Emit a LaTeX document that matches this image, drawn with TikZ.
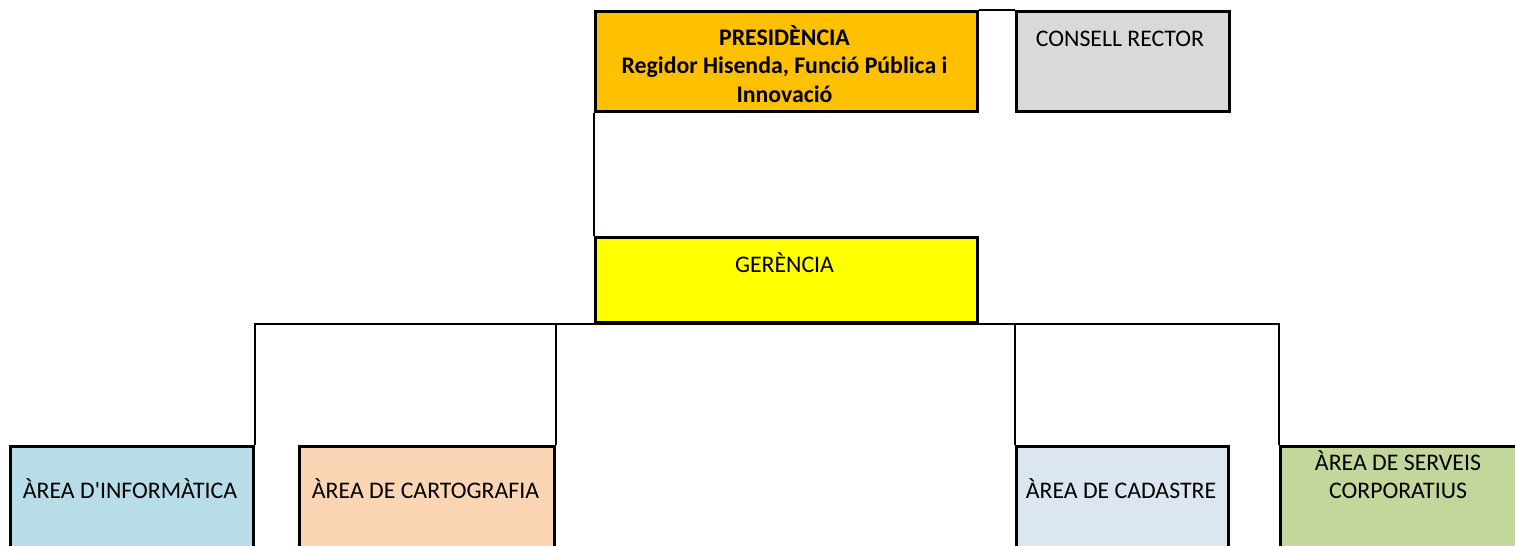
\documentclass[tikz,border=0pt]{standalone}
\usepackage{fontspec}
\setmainfont{Carlito}
\definecolor{cpres}{HTML}{FFC000}
\definecolor{ccons}{HTML}{D9D9D9}
\definecolor{cger}{HTML}{FFFF00}
\definecolor{cinfo}{HTML}{B7DEE8}
\definecolor{ccart}{HTML}{FCD5B4}
\definecolor{ccad}{HTML}{DCE6F1}
\definecolor{cserv}{HTML}{C4D79B}
\begin{document}
\begin{tikzpicture}[x=1pt,y=-1pt,
  orgbox/.style={draw=black, line width=3pt, rectangle, anchor=north west, inner sep=0pt},
  conn/.style={draw=black, line width=2pt},
  lbl/.style={font=\fontsize{23.8pt}{28.5pt}\selectfont, align=center, inner sep=0pt, anchor=center}]
\useasboundingbox (0,0) rectangle (1515,546);
\clip (0,0) rectangle (1515,546);
% boxes
\node[orgbox, fill=cpres, minimum width=382pt, minimum height=100.5pt] (pres) at (593.5,9.5) {};
\node[orgbox, fill=ccons, minimum width=213.5pt, minimum height=100.5pt] (cons) at (1014.5,9.5) {};
\node[orgbox, fill=cger, minimum width=382pt, minimum height=85pt] (ger) at (593.5,235.5) {};
\node[orgbox, fill=cinfo, minimum width=243pt, minimum height=150pt] (info) at (8.5,445) {};
\node[orgbox, fill=ccart, minimum width=255pt, minimum height=150pt] (cart) at (298,445) {};
\node[orgbox, fill=ccad, minimum width=212.5pt, minimum height=150pt] (cad) at (1014.5,445) {};
\node[orgbox, fill=cserv, minimum width=300pt, minimum height=150pt] (serv) at (1278.5,445) {};
% connectors
\draw[conn] (pres.north east) -- (cons.north west);
\draw[conn] (pres.south west) -- (ger.north west);
\draw[conn] (info.north east) -- (info.north east |- ger.south) -- (serv.north west |- ger.south) -- (serv.north west);
\draw[conn] (cart.north east |- ger.south) -- (cart.north east);
\draw[conn] (cad.north west |- ger.south) -- (cad.north west);
% texts
\node[lbl, font=\fontsize{23.8pt}{28.5pt}\selectfont\bfseries] (tpres) at (784.5,64) {PRESIDÈNCIA\\Regidor Hisenda, Funció Pública i\\Innovació};
\node[lbl] (tcons) at (1120,38.5) {CONSELL RECTOR};
\node[lbl] (tger) at (784.5,262.5) {GERÈNCIA};
\node[lbl] (tinfo) at (130,488.5) {ÀREA D\textquotesingle INFORMÀTICA};
\node[lbl] (tcart) at (425.5,488.5) {ÀREA DE CARTOGRAFIA};
\node[lbl] (tcad) at (1121,488.5) {ÀREA DE CADASTRE};
\node[lbl] (tserv) at (1398,474.5) {ÀREA DE SERVEIS\\CORPORATIUS};
\end{tikzpicture}
\end{document}
